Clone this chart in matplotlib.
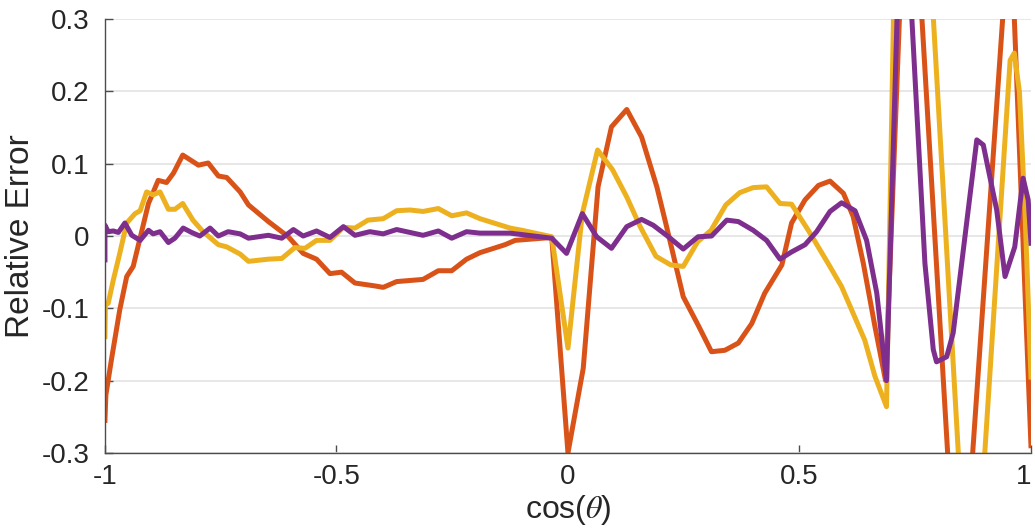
import matplotlib.pyplot as plt

plt.rcParams['font.family'] = ['Liberation Sans', 'DejaVu Sans']
plt.rcParams['mathtext.fontset'] = 'stix'

# relative error vs cos(theta) for three approximations
x_orange = [-1.0, -0.998, -0.986, -0.968, -0.953, -0.939, -0.906, -0.885, -0.867, -0.852,
            -0.832, -0.798, -0.777, -0.755, -0.737, -0.708, -0.690, -0.647, -0.604, -0.572,
            -0.543, -0.514, -0.489, -0.460, -0.417, -0.399, -0.370, -0.313, -0.280, -0.251,
            -0.219, -0.190, -0.136, -0.114, -0.035, 0.0, 0.033, 0.065, 0.094, 0.127,
            0.159, 0.192, 0.213, 0.249, 0.281, 0.310, 0.339, 0.368, 0.397, 0.425,
            0.462, 0.483, 0.512, 0.541, 0.566, 0.595, 0.616, 0.638, 0.663, 0.686,
            0.735, 0.845, 0.955, 1.0]
y_orange = [-0.255, -0.220, -0.171, -0.102, -0.056, -0.042, 0.045, 0.077, 0.074, 0.087,
            0.112, 0.098, 0.101, 0.083, 0.081, 0.061, 0.043, 0.020, -0.001, -0.024,
            -0.032, -0.052, -0.050, -0.065, -0.069, -0.071, -0.063, -0.060, -0.048, -0.048,
            -0.032, -0.023, -0.012, -0.006, -0.002, -0.300, -0.183, 0.068, 0.151, 0.175,
            0.137, 0.068, 0.013, -0.084, -0.123, -0.160, -0.158, -0.148, -0.121, -0.079,
            -0.040, 0.018, 0.050, 0.070, 0.076, 0.059, 0.027, -0.038, -0.125, -0.200,
            0.62, -0.57, 0.45, -0.290]

x_yellow = [-1.0, -0.999, -0.993, -0.982, -0.968, -0.953, -0.935, -0.924, -0.910, -0.896,
            -0.881, -0.863, -0.849, -0.832, -0.810, -0.788, -0.755, -0.737, -0.708, -0.690,
            -0.647, -0.618, -0.590, -0.568, -0.543, -0.514, -0.485, -0.460, -0.432, -0.399,
            -0.370, -0.341, -0.313, -0.280, -0.251, -0.219, -0.190, -0.125, -0.100, -0.035,
            0.0, 0.031, 0.064, 0.096, 0.127, 0.156, 0.190, 0.222, 0.249, 0.280,
            0.309, 0.341, 0.371, 0.400, 0.429, 0.458, 0.483, 0.519, 0.562, 0.591,
            0.641, 0.663, 0.688, 0.710, 0.740, 0.870, 0.955, 0.964, 0.975, 0.987, 1.0]
y_yellow = [-0.139, -0.095, -0.093, -0.061, -0.024, 0.018, 0.031, 0.035, 0.061, 0.057,
            0.061, 0.037, 0.037, 0.045, 0.022, 0.006, -0.012, -0.015, -0.025, -0.035,
            -0.032, -0.031, -0.016, -0.017, -0.006, -0.006, 0.012, 0.011, 0.022, 0.024,
            0.035, 0.036, 0.034, 0.038, 0.028, 0.032, 0.024, 0.011, 0.008, -0.001,
            -0.155, 0.031, 0.119, 0.092, 0.054, 0.013, -0.028, -0.040, -0.042, -0.008,
            0.008, 0.043, 0.060, 0.067, 0.068, 0.045, 0.044, 0.008, -0.038, -0.070,
            -0.144, -0.194, -0.236, 0.55, 0.85, -0.60, 0.243, 0.253, 0.200, 0.036, -0.195]

x_purple = [-1.0, -1.0, -0.993, -0.982, -0.971, -0.957, -0.942, -0.924, -0.906, -0.896,
            -0.881, -0.863, -0.849, -0.831, -0.813, -0.795, -0.773, -0.755, -0.734, -0.708,
            -0.690, -0.647, -0.618, -0.593, -0.572, -0.543, -0.514, -0.485, -0.460, -0.428,
            -0.399, -0.370, -0.313, -0.280, -0.251, -0.219, -0.190, -0.125, -0.035, -0.003,
            0.031, 0.062, 0.094, 0.127, 0.159, 0.184, 0.217, 0.249, 0.281, 0.310,
            0.343, 0.368, 0.400, 0.429, 0.458, 0.483, 0.512, 0.537, 0.566, 0.591,
            0.620, 0.645, 0.667, 0.688, 0.722, 0.771, 0.789, 0.796, 0.818, 0.832,
            0.883, 0.897, 0.926, 0.944, 0.965, 0.983, 0.994, 1.0]
y_purple = [-0.033, 0.015, 0.006, 0.007, 0.005, 0.018, 0.001, -0.006, 0.008, 0.003,
            0.006, -0.009, -0.003, 0.011, 0.005, 0.000, 0.011, 0.000, 0.006, 0.003,
            -0.003, 0.001, -0.003, 0.009, 0.000, 0.007, -0.002, 0.013, 0.001, 0.006,
            0.003, 0.009, 0.001, 0.007, -0.003, 0.006, 0.004, 0.004, -0.003, -0.024,
            0.031, -0.001, -0.017, 0.013, 0.023, 0.015, -0.001, -0.018, -0.001, 0.000,
            0.022, 0.020, 0.008, -0.006, -0.032, -0.022, -0.012, 0.006, 0.034, 0.046,
            0.035, -0.006, -0.079, -0.200, 0.55, -0.038, -0.157, -0.174, -0.167, -0.134,
            0.133, 0.126, 0.036, -0.056, -0.015, 0.080, 0.050, -0.010]

xticks = [-1, -0.5, 0, 0.5, 1]
xtick_labels = ['-1', '-0.5', '0', '0.5', '1']
yticks = [-0.3, -0.2, -0.1, 0, 0.1, 0.2, 0.3]
ytick_labels = ['-0.3', '-0.2', '-0.1', '0', '0.1', '0.2', '0.3']

fig = plt.figure(figsize=(10.35, 5.31), dpi=100)
ax = fig.add_axes([0.1014, 0.147, 0.8947, 0.817])

lw = 3.6
ax.plot(x_orange, y_orange, color='#D95319', lw=lw)
ax.plot(x_yellow, y_yellow, color='#EDB120', lw=lw)
ax.plot(x_purple, y_purple, color='#7E2F8E', lw=lw)

ax.set_xlim(-1, 1)
ax.set_ylim(-0.3, 0.3)
ax.set_xticks(xticks)
ax.set_xticklabels(xtick_labels)
ax.set_yticks(yticks)
ax.set_yticklabels(ytick_labels)
# keep the last x label inside the figure edge
ax.get_xticklabels()[-1].set_horizontalalignment('right')

ax.yaxis.grid(True, color='#E3E3E3', lw=1.2)
ax.set_axisbelow(True)
for side in ['top', 'right']:
    ax.spines[side].set_visible(False)
for side in ['left', 'bottom']:
    ax.spines[side].set_color('#4D4D4D')
    ax.spines[side].set_linewidth(1.0)

ax.tick_params(direction='in', length=6, width=1, color='#4D4D4D',
               labelsize=20, labelcolor='#262626')
ax.tick_params(axis='y', pad=11)
ax.tick_params(axis='x', pad=8)

ax.set_ylabel('Relative Error', fontsize=24, color='#262626', labelpad=4)
ax.set_xlabel(r'cos($\theta$)', fontsize=23, color='#262626', labelpad=2)

fig.savefig('out.png', dpi=100)
